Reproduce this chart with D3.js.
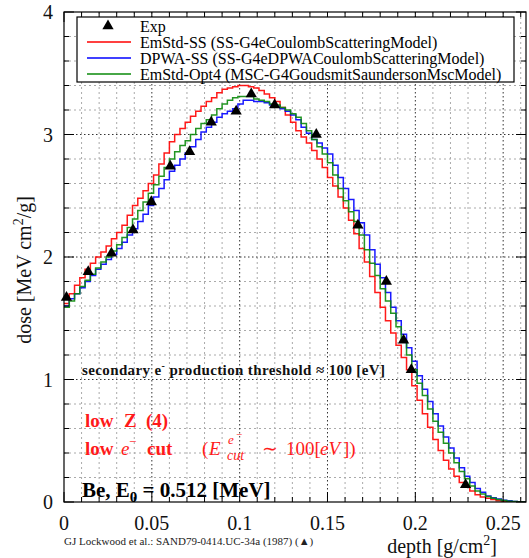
<!DOCTYPE html>
<html>
<head>
<meta charset="utf-8">
<script src="https://cdn.jsdelivr.net/npm/d3@7"></script>
<style>
  body { margin: 0; background: #fff; }
  svg { display: block; font-family: "Liberation Serif", "Times New Roman", serif; }
</style>
</head>
<body>
<div id="chart"></div>
<script>
// histogram bin width (g/cm2), bins start at depth 0
const binWidth = 0.003;

// EmStd-SS (red)
const emStdSS = [
  1.62, 1.70, 1.77, 1.83, 1.90, 1.95, 2.00, 2.04, 2.09, 2.15,
  2.20, 2.26, 2.34, 2.42, 2.48, 2.54, 2.60, 2.67, 2.76, 2.85,
  2.94, 3.00, 3.05, 3.10, 3.15, 3.19, 3.23, 3.27, 3.30, 3.34,
  3.37, 3.38, 3.39, 3.40, 3.40, 3.39, 3.38, 3.36, 3.33, 3.30,
  3.27, 3.22, 3.16, 3.10, 3.03, 2.98, 2.93, 2.87, 2.80, 2.73,
  2.65, 2.58, 2.49, 2.40, 2.30, 2.19, 2.07, 1.96, 1.84, 1.71,
  1.59, 1.48, 1.38, 1.28, 1.18, 1.08, 0.95, 0.83, 0.72, 0.61,
  0.51, 0.42, 0.34, 0.27, 0.21, 0.16, 0.12, 0.09, 0.06, 0.04,
  0.03, 0.02, 0.01, 0.005, 0.003, 0.001, 0, 0
];

// DPWA-SS (blue)
const dpwaSS = [
  1.60, 1.66, 1.70, 1.75, 1.80, 1.85, 1.90, 1.94, 1.98, 2.02,
  2.07, 2.12, 2.18, 2.23, 2.29, 2.35, 2.42, 2.49, 2.56, 2.63,
  2.70, 2.75, 2.80, 2.85, 2.90, 2.96, 3.02, 3.06, 3.10, 3.14,
  3.17, 3.19, 3.21, 3.25, 3.28, 3.28, 3.27, 3.27, 3.26, 3.24,
  3.23, 3.21, 3.19, 3.16, 3.12, 3.06, 3.01, 2.96, 2.93, 2.89,
  2.84, 2.75, 2.65, 2.56, 2.47, 2.38, 2.28, 2.18, 2.06, 1.94,
  1.83, 1.71, 1.59, 1.48, 1.37, 1.26, 1.15, 1.03, 0.92, 0.82,
  0.72, 0.62, 0.53, 0.44, 0.36, 0.28, 0.21, 0.16, 0.11, 0.08,
  0.05, 0.035, 0.025, 0.015, 0.01, 0.005, 0.002, 0.001
];

// EmStd-Opt4 (green)
const emStdOpt4 = [
  1.59, 1.64, 1.70, 1.76, 1.81, 1.86, 1.91, 1.96, 2.00, 2.05,
  2.10, 2.16, 2.24, 2.31, 2.38, 2.45, 2.52, 2.59, 2.66, 2.73,
  2.80, 2.86, 2.91, 2.95, 3.00, 3.05, 3.09, 3.12, 3.16, 3.21,
  3.25, 3.28, 3.30, 3.31, 3.31, 3.31, 3.29, 3.28, 3.27, 3.25,
  3.24, 3.22, 3.20, 3.17, 3.14, 3.09, 3.03, 2.96, 2.90, 2.84,
  2.77, 2.67, 2.56, 2.46, 2.37, 2.29, 2.18, 2.06, 1.95, 1.85,
  1.74, 1.64, 1.54, 1.43, 1.31, 1.20, 1.08, 0.97, 0.87, 0.76,
  0.66, 0.57, 0.48, 0.40, 0.32, 0.25, 0.19, 0.13, 0.09, 0.065,
  0.045, 0.03, 0.02, 0.012, 0.007, 0.004, 0.002, 0.001
];

// experimental points (Lockwood et al.)
const expDepth = [0.0014, 0.0138, 0.027, 0.0393, 0.0497, 0.0605, 0.0715, 0.0838, 0.098,
                  0.1066, 0.1199, 0.1436, 0.1673, 0.1835, 0.1933, 0.1977, 0.2286];
const expDose  = [1.67, 1.88, 2.03, 2.22, 2.45, 2.74, 2.86, 3.10, 3.19,
                  3.33, 3.24, 3.00, 2.26, 1.80, 1.32, 1.08, 0.14];

const xTicks = [0, 0.05, 0.1, 0.15, 0.2, 0.25];
const yTicks = [0, 1, 2, 3, 4];
const seriesNames = [
  "EmStd-SS (SS-G4eCoulombScatteringModel)",
  "DPWA-SS (SS-G4eDPWACoulombScatteringModel)",
  "EmStd-Opt4 (MSC-G4GoudsmitSaundersonMscModel)"
];
const seriesColors = ["#ff0000", "#0000ff", "#0a8a0a"];

(function () {
  "use strict";

  const W = 529, H = 558;
  const left = 64, right = 526, top = 12, bottom = 502;

  const x = d3.scaleLinear().domain([0, 0.263]).range([left, right]);
  const y = d3.scaleLinear().domain([0, 4]).range([bottom, top]);

  const svg = d3.select("#chart").append("svg")
    .attr("width", W).attr("height", H);

  svg.append("defs").append("clipPath").attr("id", "plot-clip")
    .append("rect").attr("x", left).attr("y", top)
    .attr("width", right - left).attr("height", bottom - top);

  // grid: minor dotted grey, major dotted dark
  const xMinor = d3.range(0.01, 0.263, 0.01).filter(v => Math.abs(v / 0.05 - Math.round(v / 0.05)) > 1e-6);
  const yMinor = d3.range(0.2, 4, 0.2).filter(v => Math.abs(v - Math.round(v)) > 1e-6);

  const grid = svg.append("g").attr("class", "grid");
  grid.selectAll(".gx").data(xMinor).join("line")
    .attr("x1", d => x(d)).attr("x2", d => x(d)).attr("y1", top).attr("y2", bottom)
    .attr("stroke", "#aaa").attr("stroke-dasharray", "2,3").attr("stroke-width", 1);
  grid.selectAll(".gy").data(yMinor).join("line")
    .attr("y1", d => y(d)).attr("y2", d => y(d)).attr("x1", left).attr("x2", right)
    .attr("stroke", "#aaa").attr("stroke-dasharray", "2,3").attr("stroke-width", 1);
  grid.selectAll(".gX").data(xTicks.slice(1)).join("line")
    .attr("x1", d => x(d)).attr("x2", d => x(d)).attr("y1", top).attr("y2", bottom)
    .attr("stroke", "#333").attr("stroke-dasharray", "1.5,2.5").attr("stroke-width", 1);
  grid.selectAll(".gY").data(yTicks.slice(1, -1)).join("line")
    .attr("y1", d => y(d)).attr("y2", d => y(d)).attr("x1", left).attr("x2", right)
    .attr("stroke", "#333").attr("stroke-dasharray", "1.5,2.5").attr("stroke-width", 1);

  // histograms
  const step = d3.line()
    .x(d => x(d[0])).y(d => y(d[1]))
    .curve(d3.curveStepAfter);

  [emStdSS, dpwaSS, emStdOpt4].forEach((vals, si) => {
    const pts = vals.map((v, i) => [i * binWidth, v]);
    pts.push([vals.length * binWidth, vals[vals.length - 1]]);
    svg.append("path")
      .attr("clip-path", "url(#plot-clip)")
      .attr("d", step(pts))
      .attr("fill", "none")
      .attr("stroke", seriesColors[si])
      .attr("stroke-width", 1.5)
      .attr("stroke-opacity", 0.9);
  });

  // experimental triangles
  const tri = d3.symbol(d3.symbolTriangle, 55);
  svg.append("g").selectAll("path").data(expDepth).join("path")
    .attr("d", tri)
    .attr("transform", (d, i) => `translate(${x(d)},${y(expDose[i])})`)
    .attr("fill", "#000");

  // frame and ticks (inside)
  svg.append("rect").attr("x", left).attr("y", top)
    .attr("width", right - left).attr("height", bottom - top)
    .attr("fill", "none").attr("stroke", "#000").attr("stroke-width", 1.2);

  const xMinorTicks = d3.range(0, 0.263, 0.01);
  const yMinorTicks = d3.range(0, 4.01, 0.2);
  const ticks = svg.append("g").attr("stroke", "#000").attr("stroke-width", 1);
  xMinorTicks.forEach(v => {
    const major = Math.abs(v / 0.05 - Math.round(v / 0.05)) < 1e-6;
    const len = major ? 10 : 5;
    ticks.append("line").attr("x1", x(v)).attr("x2", x(v)).attr("y1", bottom).attr("y2", bottom - len);
    ticks.append("line").attr("x1", x(v)).attr("x2", x(v)).attr("y1", top).attr("y2", top + len);
  });
  yMinorTicks.forEach(v => {
    const major = Math.abs(v - Math.round(v)) < 1e-6;
    const len = major ? 10 : 5;
    ticks.append("line").attr("y1", y(v)).attr("y2", y(v)).attr("x1", left).attr("x2", left + len);
    ticks.append("line").attr("y1", y(v)).attr("y2", y(v)).attr("x1", right).attr("x2", right - len);
  });

  // tick labels
  svg.append("g").selectAll("text").data(xTicks).join("text")
    .attr("x", d => x(d)).attr("y", 530)
    .attr("text-anchor", "middle").attr("font-size", 20).attr("fill", "#111")
    .text(d => d === 0 ? "0" : String(d));
  svg.append("g").selectAll("text").data(yTicks).join("text")
    .attr("x", 53).attr("y", d => y(d) + 7)
    .attr("text-anchor", "end").attr("font-size", 20).attr("fill", "#111")
    .text(d => d);

  // axis titles
  const xl = svg.append("text").attr("x", 497).attr("y", 553)
    .attr("text-anchor", "end").attr("font-size", 20).attr("fill", "#111");
  xl.append("tspan").text("depth [g/cm");
  xl.append("tspan").attr("dy", -8).attr("font-size", 14).text("2");
  xl.append("tspan").attr("dy", 8).text("]");

  const yl = svg.append("text")
    .attr("transform", "translate(31,270) rotate(-90)")
    .attr("text-anchor", "middle").attr("font-size", 20).attr("fill", "#111");
  yl.append("tspan").text("dose [MeV cm");
  yl.append("tspan").attr("dy", -8).attr("font-size", 14).text("2");
  yl.append("tspan").attr("dy", 8).text("/g]");

  // footnote
  svg.append("text").attr("x", 64).attr("y", 545)
    .attr("font-size", 11).attr("fill", "#222")
    .text("GJ Lockwood et al.: SAND79-0414.UC-34a (1987) (\u25B2)");

  // legend
  const lg = svg.append("g");
  lg.append("rect").attr("x", 77).attr("y", 17).attr("width", 437).attr("height", 65)
    .attr("fill", "#fff").attr("stroke", "#000").attr("stroke-width", 1.2);
  lg.append("path").attr("d", d3.symbol(d3.symbolTriangle, 55))
    .attr("transform", "translate(108,26)").attr("fill", "#000");
  lg.append("text").attr("x", 140).attr("y", 31.5).attr("font-size", 16).text("Exp");
  seriesNames.forEach((name, i) => {
    const cy = 42 + i * 16;
    lg.append("line").attr("x1", 87).attr("x2", 131).attr("y1", cy).attr("y2", cy)
      .attr("stroke", seriesColors[i]).attr("stroke-width", 1.5);
    lg.append("text").attr("x", 140).attr("y", cy + 5.5).attr("font-size", 16).text(name);
  });

  // annotations
  const t1 = svg.append("text").attr("x", 82).attr("y", 375)
    .attr("font-size", 15).attr("font-weight", "bold").attr("fill", "#111")
    .attr("textLength", 303).attr("lengthAdjust", "spacing");
  t1.append("tspan").text("secondary e");
  t1.append("tspan").attr("dy", -6).attr("font-size", 10).text("-");
  t1.append("tspan").attr("dy", 6).text(" production threshold \u2248 100 [eV]");

  const red = "#ff1a1a";
  const ann = svg.append("g").attr("fill", red).attr("font-size", 19);
  ann.append("text").attr("x", 85).attr("y", 427).attr("font-weight", "bold").text("low");
  ann.append("text").attr("x", 124).attr("y", 427).attr("font-weight", "bold").text("Z");
  ann.append("text").attr("x", 146).attr("y", 427).attr("font-weight", "bold").text("(4)");

  ann.append("text").attr("x", 85).attr("y", 455).attr("font-weight", "bold").text("low");
  ann.append("text").attr("x", 121).attr("y", 455).attr("font-style", "italic").text("e");
  ann.append("text").attr("x", 129).attr("y", 446).attr("font-size", 13).text("\u2212");
  ann.append("text").attr("x", 147).attr("y", 455).attr("font-weight", "bold").text("cut");
  ann.append("text").attr("x", 202).attr("y", 455).text("(");
  ann.append("text").attr("x", 209).attr("y", 455).attr("font-style", "italic").text("E");
  ann.append("text").attr("x", 227).attr("y", 460).attr("font-size", 14).attr("font-style", "italic").text("cut");
  ann.append("text").attr("x", 228).attr("y", 444).attr("font-size", 13).attr("font-style", "italic").text("e");
  ann.append("text").attr("x", 236).attr("y", 438).attr("font-size", 11).text("\u2212");
  ann.append("text").attr("x", 262).attr("y", 455).text("\u223C");
  ann.append("text").attr("x", 286).attr("y", 455).text("100[");
  ann.append("text").attr("x", 320).attr("y", 455).attr("font-style", "italic").text("eV");
  ann.append("text").attr("x", 343).attr("y", 455).text("])");

  const be = svg.append("text").attr("x", 82).attr("y", 497)
    .attr("font-size", 21).attr("font-weight", "bold").attr("fill", "#000");
  be.append("tspan").text("Be, E");
  be.append("tspan").attr("dy", 5).attr("font-size", 15).text("0");
  be.append("tspan").attr("dy", -5).text(" = 0.512 [MeV]");
})();
</script>
</body>
</html>
